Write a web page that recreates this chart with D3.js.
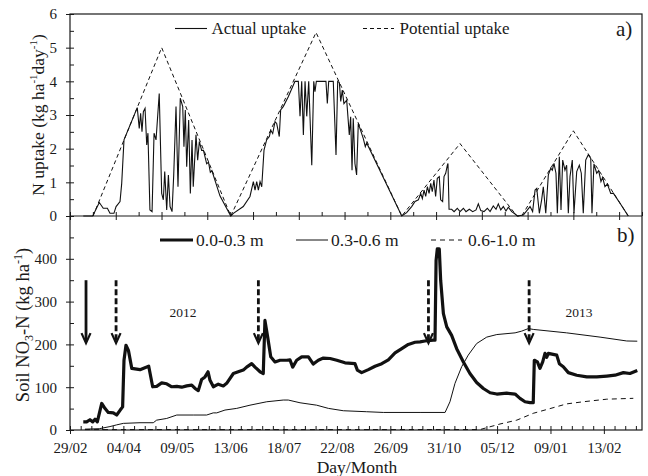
<!DOCTYPE html>
<html>
<head>
<meta charset="utf-8">
<script src="https://cdn.jsdelivr.net/npm/d3@7"></script>
<style>
  html, body { margin: 0; padding: 0; background: #fff; }
  svg { display: block; }
  text { font-family: "Liberation Serif", "Times New Roman", serif; fill: #1a1a1a; }
</style>
</head>
<body>
<svg id="chart" width="648" height="476"></svg>
<script>
// Days counted from 29/02/2012.
// ---- a) N uptake (kg ha-1 day-1) ----
const potentialUptake = [
  [15.1, 0], [60.1, 5.0], [105.4, 0],
  [161.3, 5.45], [217.5, 0],
  [255.7, 2.15], [293.0, 0], [296.1, 0],
  [330.0, 2.53], [366.0, 0]
];

const actualUptake = [
  // first crop
  [8.7,0],[14.9,0],[19.2,0.40],[21.8,0.23],[24.5,0.23],[26.2,0.08],[28.8,0.08],[30.2,0.28],
  [32.8,0.43],[33.9,0.97],[35.4,2.26],[44.1,3.22],[45.4,2.60],[46.3,3.05],[47.2,2.50],[48.1,3.10],
  [49.2,3.20],[50.3,2.11],[51.1,2.46],[52.4,0.18],[53.8,0.13],[55.1,2.46],[56.4,2.26],[58.5,3.64],
  [60.1,0.67],[61.2,0.48],[62.1,1.32],[63.4,0.18],[64.5,1.22],[65.6,0.28],[66.9,0.13],[68.0,1.22],
  [69.5,3.25],[70.8,0.87],[72.3,3.50],[73.9,3.25],[74.7,2.06],[75.6,3.15],[76.5,1.46],[77.8,2.85],
  [78.9,0.67],[80.0,2.26],[80.8,0.87],[82.6,2.41],[83.7,1.66],[84.8,2.21],[86.3,1.95],[87.5,1.95],
  [89.6,1.55],[90.8,1.6],[92.0,1.3],[93.0,1.35],[98.3,0.6],[105.4,0],
  // second crop
  [107.1,0.08],[113.6,0.28],[118.0,0.58],[120.2,1.02],[121.3,0.77],[122.4,1.02],[123.5,0.77],
  [124.6,1.02],[125.7,0.87],[127.2,1.96],[128.9,2.26],[130.7,2.36],[131.6,2.55],[132.9,2.45],
  [134.4,2.80],[135.5,2.75],[137.2,2.36],[138.1,3.15],[139.8,3.25],[143.1,3.54],[147.5,4.0],
  [149.7,4.0],[150.8,2.96],[151.9,4.0],[153.0,2.41],[154.1,4.0],[155.2,2.96],[156.5,4.0],
  [158.5,1.51],[159.8,4.0],[160.6,3.69],[161.5,4.0],[167.8,4.0],[168.7,3.34],[169.6,4.0],
  [172.6,4.0],[174.4,1.81],[175.5,4.0],[176.6,3.96],[177.5,3.40],[178.5,3.74],[179.6,3.34],
  [181.4,3.44],[183.1,2.41],[184.0,2.95],[184.9,1.36],[185.7,2.90],[186.8,1.56],[187.9,1.22],
  [189.0,2.75],[192.3,2.30],[193.6,2.06],[194.5,2.17],[217.5,0],
  // third crop
  [220.7,0.10],[224.0,0.28],[226.2,0.43],[228.4,0.48],[229.9,0.67],[231.0,0.52],[232.1,0.77],
  [233.2,0.58],[234.3,0.87],[235.4,0.67],[236.5,0.97],[237.5,0.72],[238.6,1.07],[239.7,0.58],
  [240.8,1.12],[242.1,1.17],[243.0,0.48],[244.3,0.43],[245.2,1.17],[246.3,1.27],[247.4,1.51],
  [247.8,1.56],[248.5,0.2],[250.2,0.2],[251.8,0.13],[253.9,0.23],[255.7,0.13],[257.9,0.23],
  [259.6,0.13],[261.8,0.2],[264.0,0.13],[266.2,0.18],[267.7,0.36],[269.3,0.16],[271.4,0.13],
  [273.6,0.23],[275.4,0.13],[277.5,0.3],[279.3,0.2],[280.8,0.36],[282.4,0.18],[284.1,0.28],
  [285.8,0.15],[287.4,0.26],[289.6,0.13],[291.8,0.06],[293.3,0],
  // fourth crop
  [297.2,0.03],[301.6,0.28],[303.3,0.13],[304.9,0.77],[306.0,0.82],[307.7,0.08],[309.2,0.48],
  [310.3,0.87],[311.9,0.08],[313.6,1.22],[315.2,1.42],[316.2,1.36],[317.3,1.56],[318.6,1.27],
  [319.5,0.08],[320.8,1.76],[321.9,0.18],[323.0,1.66],[324.5,1.36],[325.6,1.51],[326.7,0.08],
  [327.8,1.17],[329.3,1.66],[330.4,0.08],[332.2,1.32],[333.9,1.51],[335.2,1.27],[336.5,0.08],
  [338.1,1.66],[339.8,1.82],[341.4,1.71],[342.2,0.08],[343.5,1.55],[345.3,1.27],[346.6,1.35],
  [348.1,1.02],[349.2,1.15],[350.7,0.87],[352.3,0.95],[354.5,0.67],[356.2,0.68],[360.6,0.38],
  [366.0,0]
];

// ---- b) Soil NO3-N (kg ha-1) by depth ----
const layer00to03 = [
  [8.7,19],[10.9,19],[13.1,24],[14.9,19],[16.4,25],[17.9,19],[20.8,62],[23.0,50],[25.1,41],
  [28.4,40],[30.6,35],[32.8,46],[34.5,54],[35.4,163],[36.7,198],[38.3,186],[40.5,144],[45.9,141],
  [50.3,147],[51.6,149],[54.2,101],[56.8,102],[60.1,110],[63.4,108],[66.7,101],[70.0,102],
  [73.2,100],[76.5,103],[79.8,105],[82.0,97],[84.1,92],[86.3,118],[88.5,124],[90.5,136],
  [91.8,116],[94.0,101],[97.2,107],[100.5,103],[102.7,109],[107.1,132],[110.3,136],[113.6,140],
  [115.8,147],[119.1,155],[121.3,147],[124.6,136],[126.7,132],[127.8,256],[129.6,217],[131.6,171],
  [134.4,159],[137.7,163],[142.1,163],[144.2,164],[146.0,147],[148.6,163],[151.9,171],[156.3,171],
  [159.5,154],[162.8,163],[166.1,168],[170.5,167],[174.9,163],[180.3,157],[186.8,155],[188.4,140],
  [191.2,134],[195.6,141],[200.0,149],[204.4,155],[208.7,164],[213.1,180],[217.5,190],[221.8,200],
  [226.2,205],[229.5,206],[232.7,208],[238.2,210],[239.3,210],[240.0,396],[240.8,423],[242.1,423],
  [243.0,350],[244.8,272],[247.0,241],[250.2,221],[253.5,190],[257.9,159],[262.2,132],[266.6,111],
  [271.0,97],[275.4,87],[279.8,84],[286.3,86],[291.8,84],[295.0,74],[298.3,66],[301.6,64],
  [303.7,64],[304.4,163],[306.4,159],[308.1,144],[309.9,159],[311.4,179],[312.5,170],[313.6,179],
  [319.1,175],[320.8,155],[323.4,148],[326.7,134],[332.2,128],[338.8,124],[345.3,124],[351.9,126],
  [357.3,128],[362.8,134],[367.1,132],[371.9,139]
];

const layer03to06 = [
  [9.8,2],[19.2,3],[26.2,8],[30.6,12],[35.0,15.5],[45.9,17],[54.6,17],[56.8,23],[63.4,27],
  [70.0,35],[80.8,35],[89.6,35],[93.9,40],[96.2,40],[101.6,46.6],[109.3,50.5],[118.0,58],
  [129.0,66],[139.8,70],[143.1,70],[150.8,63.6],[161.7,58],[169.4,50.5],[179.2,45],[194.5,42.7],
  [205.4,41],[229.5,41],[245.9,41],[249.1,66],[252.4,109],[256.8,148],[261.1,175],[266.6,202],
  [273.2,217],[279.8,223],[291.8,227],[296.1,231],[300.5,237],[303.7,235],[325.6,227],
  [347.5,217],[365.0,208],[371.9,207.5]
];

const layer06to10 = [
  [9.8,1],[268.8,1],[281.9,14],[292.9,23],[303.7,39],[314.7,50],[325.6,61],[336.5,66],
  [351.9,72],[369.3,74]
];

// Fertiliser / event arrows (day) and whether they are drawn dashed
const arrowDays = [10.5, 30.2, 123.5, 235.0, 301.0];
const arrowDashed = [false, true, true, true, true];

// Axis ticks
const xLabelDays = [0, 35, 70, 105, 140, 175, 210, 245, 280, 315, 350];
const xTickLabels = ["29/02", "04/04", "09/05", "13/06", "18/07", "22/08", "26/09", "31/10", "05/12", "09/01", "13/02"];
const yTopTicks = [0, 1, 2, 3, 4, 5, 6];
const yBotTicks = [0, 100, 200, 300, 400];

// ---- drawing ----
const svg = d3.select("#chart");
const L = 70, R = 642, T = 14, MID = 216, B = 430;

const x = d3.scaleLinear().domain([0, 375]).range([L, R]);
const yTop = d3.scaleLinear().domain([0, 6]).range([MID, T]);
const yBot = d3.scaleLinear().domain([0, 500]).range([B, MID]);

function dropDomain(g) {
  g.select(".domain").remove();
}

// top y axis
svg.append("g").attr("transform", `translate(${L},0)`)
  .call(d3.axisLeft(yTop).tickValues(yTopTicks).tickSize(4).tickPadding(9).tickFormat(d3.format("d")))
  .call(g => { g.select(".domain").remove(); g.selectAll(".tick line").attr("x1", 4).attr("x2", -4); });
svg.append("g").attr("transform", `translate(${L},0)`)
  .call(d3.axisLeft(yTop).tickValues(d3.range(0.5, 6, 1)).tickSize(-4).tickFormat(""))
  .call(dropDomain);

// bottom y axis
svg.append("g").attr("transform", `translate(${L},0)`)
  .call(d3.axisLeft(yBot).tickValues(yBotTicks).tickSize(4).tickPadding(9).tickFormat(d3.format("d")))
  .call(g => { g.select(".domain").remove(); g.selectAll(".tick line").attr("x1", 4).attr("x2", -4); });
svg.append("g").attr("transform", `translate(${L},0)`)
  .call(d3.axisLeft(yBot).tickValues(d3.range(50, 500, 100)).tickSize(-4).tickFormat(""))
  .call(dropDomain);

// top panel x axis (unlabelled)
svg.append("g").attr("transform", `translate(0,${MID})`)
  .call(d3.axisBottom(x).tickValues(d3.range(0, 376, 30)).tickSize(4).tickFormat(""))
  .call(g => { g.select(".domain").remove(); g.selectAll(".tick line").attr("y1", -4).attr("y2", 4); });
svg.append("g").attr("transform", `translate(0,${MID})`)
  .call(d3.axisBottom(x).tickValues(d3.range(15, 376, 30)).tickSize(-4).tickFormat(""))
  .call(dropDomain);

// bottom x axis with date labels
svg.append("g").attr("transform", `translate(0,${B})`)
  .call(d3.axisBottom(x).tickValues(xLabelDays).tickSize(4).tickPadding(8)
    .tickFormat((d, i) => xTickLabels[i]))
  .call(g => { g.select(".domain").remove(); g.selectAll(".tick line").attr("y1", -4).attr("y2", 4); });
svg.append("g").attr("transform", `translate(0,${B})`)
  .call(d3.axisBottom(x).tickValues(d3.range(7, 376, 7).filter(d => d % 35 !== 0)).tickSize(-4).tickFormat(""))
  .call(dropDomain);

svg.selectAll(".tick text").attr("font-size", 15).attr("font-family", "Liberation Serif").attr("fill", "#1a1a1a");
svg.selectAll(".tick line").attr("stroke", "#1a1a1a").attr("stroke-width", 1);

// frame
svg.append("rect").attr("x", L).attr("y", T).attr("width", R - L).attr("height", B - T)
  .attr("fill", "none").attr("stroke", "#1a1a1a").attr("stroke-width", 1.2);
svg.append("line").attr("x1", L).attr("x2", R).attr("y1", MID).attr("y2", MID)
  .attr("stroke", "#1a1a1a").attr("stroke-width", 1.2);

// panel a lines
const lineTop = d3.line().x(d => x(d[0])).y(d => yTop(d[1]));
svg.append("path").datum(potentialUptake).attr("d", lineTop)
  .attr("fill", "none").attr("stroke", "#111").attr("stroke-width", 1).attr("stroke-dasharray", "4,3");
svg.append("path").datum(actualUptake).attr("d", lineTop)
  .attr("fill", "none").attr("stroke", "#111").attr("stroke-width", 1.1).attr("stroke-linejoin", "miter");

// panel b lines
const lineBot = d3.line().x(d => x(d[0])).y(d => yBot(d[1]));
svg.append("path").datum(layer06to10).attr("d", lineBot)
  .attr("fill", "none").attr("stroke", "#111").attr("stroke-width", 1).attr("stroke-dasharray", "5,4");
svg.append("path").datum(layer03to06).attr("d", lineBot)
  .attr("fill", "none").attr("stroke", "#111").attr("stroke-width", 1);
svg.append("path").datum(layer00to03).attr("d", lineBot)
  .attr("fill", "none").attr("stroke", "#111").attr("stroke-width", 3.2).attr("stroke-linejoin", "round");

// arrows
arrowDays.forEach((d, i) => {
  const ax = x(d), y0 = yBot(350), y1 = yBot(203);
  svg.append("line").attr("x1", ax).attr("x2", ax).attr("y1", y0).attr("y2", y1 - 2)
    .attr("stroke", "#111").attr("stroke-width", 2.8)
    .attr("stroke-dasharray", arrowDashed[i] ? "6,3" : null);
  svg.append("path")
    .attr("d", `M${ax - 4.5},${y1 - 10} L${ax},${y1} L${ax + 4.5},${y1 - 10}`)
    .attr("fill", "none").attr("stroke", "#111").attr("stroke-width", 2.2);
});

// year labels
svg.append("text").attr("x", 183).attr("y", 316.5).attr("text-anchor", "middle").attr("font-size", 13.5).text("2012");
svg.append("text").attr("x", 579).attr("y", 316.5).attr("text-anchor", "middle").attr("font-size", 13.5).text("2013");

// legend a
svg.append("line").attr("x1", 175).attr("x2", 207).attr("y1", 28.5).attr("y2", 28.5).attr("stroke", "#111").attr("stroke-width", 1.1);
svg.append("text").attr("x", 211.5).attr("y", 34).attr("font-size", 17).text("Actual uptake");
svg.append("line").attr("x1", 363).attr("x2", 394).attr("y1", 28.5).attr("y2", 28.5).attr("stroke", "#111").attr("stroke-width", 1).attr("stroke-dasharray", "4,3");
svg.append("text").attr("x", 399.5).attr("y", 34).attr("font-size", 17).text("Potential uptake");
svg.append("text").attr("x", 616).attr("y", 36).attr("font-size", 21).text("a)");

// legend b
svg.append("line").attr("x1", 160).attr("x2", 193).attr("y1", 240).attr("y2", 240).attr("stroke", "#111").attr("stroke-width", 3.2);
svg.append("text").attr("x", 196).attr("y", 246).attr("font-size", 17.5).text("0.0-0.3 m");
svg.append("line").attr("x1", 296).attr("x2", 328).attr("y1", 240).attr("y2", 240).attr("stroke", "#111").attr("stroke-width", 1);
svg.append("text").attr("x", 331).attr("y", 246).attr("font-size", 17.5).text("0.3-0.6 m");
svg.append("line").attr("x1", 431).attr("x2", 462).attr("y1", 240).attr("y2", 240).attr("stroke", "#111").attr("stroke-width", 1).attr("stroke-dasharray", "5,4");
svg.append("text").attr("x", 468).attr("y", 246).attr("font-size", 17.5).text("0.6-1.0 m");
svg.append("text").attr("x", 617).attr("y", 242).attr("font-size", 21).text("b)");

// axis titles
const tTop = svg.append("text").attr("transform", "translate(44,115) rotate(-90)")
  .attr("text-anchor", "middle").attr("font-size", 17.5);
tTop.append("tspan").text("N uptake  (kg ha");
tTop.append("tspan").attr("font-size", 11).attr("dy", -7).text("-1");
tTop.append("tspan").attr("dy", 7).text("day");
tTop.append("tspan").attr("font-size", 11).attr("dy", -7).text("-1");
tTop.append("tspan").attr("dy", 7).text(")");

const tBot = svg.append("text").attr("transform", "translate(29,325) rotate(-90)")
  .attr("text-anchor", "middle").attr("font-size", 18.5);
tBot.append("tspan").text("Soil NO");
tBot.append("tspan").attr("font-size", 12).attr("dy", 4).text("3");
tBot.append("tspan").attr("dy", -4).text("-N (kg ha");
tBot.append("tspan").attr("font-size", 12).attr("dy", -7).text("-1");
tBot.append("tspan").attr("dy", 7).text(")");

svg.append("text").attr("x", 357).attr("y", 473).attr("text-anchor", "middle").attr("font-size", 17.5).text("Day/Month");
</script>
</body>
</html>
